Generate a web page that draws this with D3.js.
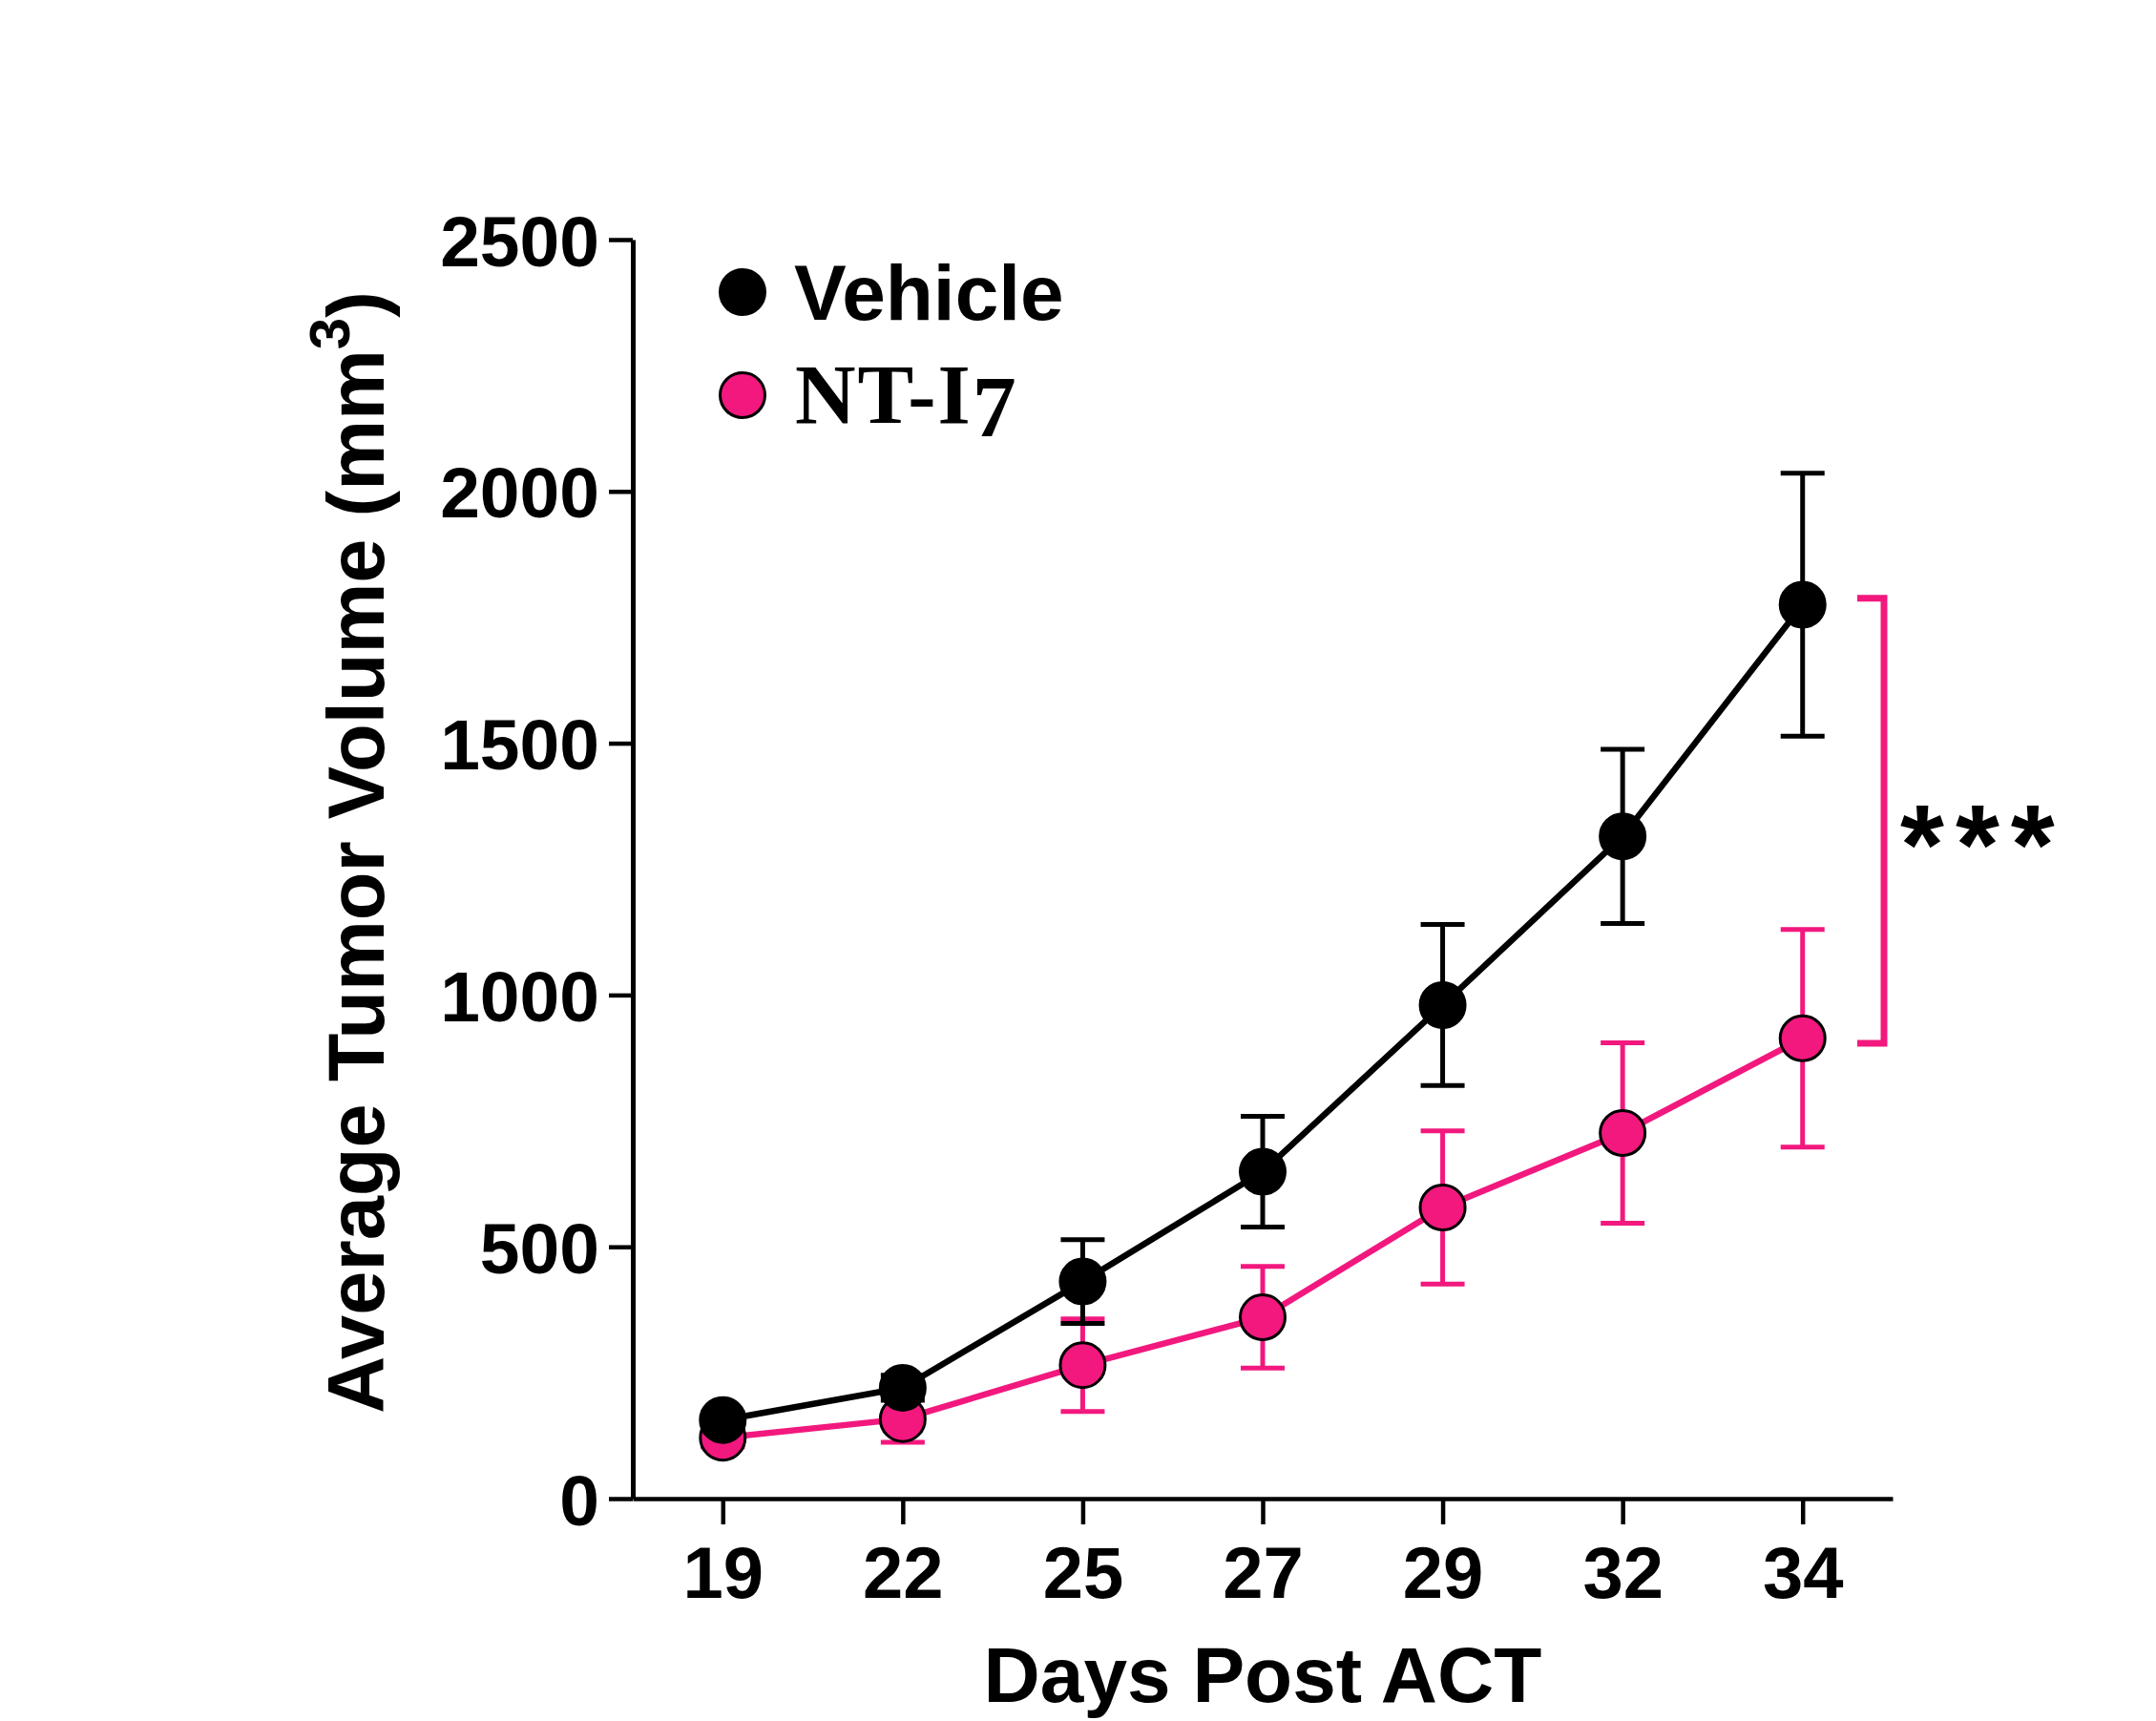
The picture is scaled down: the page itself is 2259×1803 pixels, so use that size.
<!DOCTYPE html>
<html>
<head>
<meta charset="utf-8">
<script src="https://cdn.jsdelivr.net/npm/d3@7"></script>
<style>
  html, body { margin: 0; padding: 0; background: #fff; }
  svg { display: block; }
</style>
</head>
<body>
<script>
// ---- data ----
const days = ["19", "22", "25", "27", "29", "32", "34"];
const vehicleMean = [156, 220, 431, 649, 980, 1315, 1775];
const vehicleSem  = [15, 25, 83, 110, 160, 173, 261];
const nt7Mean = [121, 158, 265, 360, 578, 726, 914];
const nt7Sem  = [18, 46, 92, 101, 152, 179, 216];
const yTicks = [0, 500, 1000, 1500, 2000, 2500];
const seriesNames = ["Vehicle", "NT-I7"];
const significance = { label: "***", top: 1788, bottom: 904 };

// ---- layout ----
const W = 2259, H = 1803;
const PINK = "#F2187E";
const sansFont = "'Liberation Sans', Arial, Helvetica, sans-serif";
const serifFont = "'Liberation Serif', 'Times New Roman', serif";

const svg = d3.select("body").append("svg")
  .attr("width", W).attr("height", H)
  .attr("viewBox", `0 0 ${W} ${H}`);

svg.append("rect").attr("width", W).attr("height", H).attr("fill", "#fff");

const x = d3.scalePoint().domain(days).range([663, 1983]).padding(0.5);
const y = d3.scaleLinear().domain([0, 2500]).range([1570, 251]);

// ---- axes ----
const yAxis = d3.axisLeft(y).tickValues(yTicks).tickFormat(d3.format("d"))
  .tickSize(25).tickSizeOuter(0).tickPadding(10);
const gy = svg.append("g").attr("transform", "translate(663,0)").call(yAxis);
gy.select(".domain").attr("stroke", "#000").attr("stroke-width", 5);
gy.selectAll(".tick line").attr("stroke", "#000").attr("stroke-width", 4.5);
gy.selectAll(".tick text")
  .attr("font-family", sansFont).attr("font-weight", "bold")
  .attr("font-size", 75).attr("fill", "#000").attr("dy", "0.36em");

const xAxis = d3.axisBottom(x).tickSize(27).tickSizeOuter(0);
const gx = svg.append("g").attr("transform", "translate(0,1570)").call(xAxis);
gx.select(".domain").attr("stroke", "#000").attr("stroke-width", 4.5);
gx.selectAll(".tick line").attr("stroke", "#000").attr("stroke-width", 4.5);
gx.selectAll(".tick text")
  .attr("font-family", sansFont).attr("font-weight", "bold")
  .attr("font-size", 76).attr("fill", "#000")
  .attr("y", 104).attr("dy", null);

// axis titles
svg.append("text")
  .attr("x", 1323).attr("y", 1783)
  .attr("text-anchor", "middle")
  .attr("font-family", sansFont).attr("font-weight", "bold")
  .attr("font-size", 82).attr("fill", "#000")
  .text("Days Post ACT");

const yt = svg.append("text")
  .attr("transform", "translate(402,893) rotate(-90)")
  .attr("text-anchor", "middle")
  .attr("font-family", sansFont).attr("font-weight", "bold")
  .attr("font-size", 83).attr("fill", "#000");
yt.append("tspan").text("Average Tumor Volume (mm");
yt.append("tspan").attr("font-size", 60).attr("dy", -36).text("3");
yt.append("tspan").attr("dy", 36).text(")");

// ---- series ----
function drawSeries(mean, sem, color, fill, markerStroke) {
  const g = svg.append("g");
  const pts = days.map((d, i) => ({ d, m: mean[i], s: sem[i] }));
  // error bars
  const eb = g.append("g").attr("stroke", color).attr("stroke-width", 5).attr("fill", "none");
  pts.forEach(p => {
    const cx = x(p.d);
    eb.append("line").attr("x1", cx).attr("x2", cx).attr("y1", y(p.m + p.s)).attr("y2", y(p.m - p.s));
    eb.append("line").attr("x1", cx - 23).attr("x2", cx + 23).attr("y1", y(p.m + p.s)).attr("y2", y(p.m + p.s));
    eb.append("line").attr("x1", cx - 23).attr("x2", cx + 23).attr("y1", y(p.m - p.s)).attr("y2", y(p.m - p.s));
  });
  // line
  g.append("path").datum(pts)
    .attr("fill", "none").attr("stroke", color).attr("stroke-width", 6.5)
    .attr("stroke-linejoin", "round")
    .attr("d", d3.line().x(p => x(p.d)).y(p => y(p.m)));
  // markers
  g.selectAll("circle").data(pts).join("circle")
    .attr("cx", p => x(p.d)).attr("cy", p => y(p.m)).attr("r", 23.5)
    .attr("fill", fill).attr("stroke", markerStroke).attr("stroke-width", 3);
}
drawSeries(nt7Mean, nt7Sem, PINK, PINK, "#000");
drawSeries(vehicleMean, vehicleSem, "#000", "#000", "#000");

// ---- significance bracket ----
const bx = 1974;
svg.append("path")
  .attr("d", `M1946,${y(significance.top)}H${bx}V${y(significance.bottom)}H1946`)
  .attr("fill", "none").attr("stroke", PINK).attr("stroke-width", 7);
svg.append("text")
  .attr("x", 1991).attr("y", 926)
  .attr("font-family", sansFont).attr("font-weight", "bold")
  .attr("font-size", 118).attr("letter-spacing", 12).attr("fill", "#000")
  .text(significance.label);

// ---- legend ----
const legend = svg.append("g");
legend.append("circle").attr("cx", 778).attr("cy", 306).attr("r", 23.5)
  .attr("fill", "#000").attr("stroke", "#000").attr("stroke-width", 3);
legend.append("text").attr("x", 832).attr("y", 335)
  .attr("font-family", sansFont).attr("font-weight", "bold")
  .attr("font-size", 82).attr("fill", "#000").text(seriesNames[0]);
legend.append("circle").attr("cx", 778).attr("cy", 414).attr("r", 23.5)
  .attr("fill", PINK).attr("stroke", "#000").attr("stroke-width", 3);
const lt = legend.append("text").attr("x", 833).attr("y", 443)
  .attr("font-family", serifFont).attr("font-weight", "bold")
  .attr("font-size", 88).attr("letter-spacing", 2).attr("fill", "#000");
lt.append("tspan").text("NT-I");
lt.append("tspan").attr("dy", 14).attr("font-size", 92).text("7");
</script>
</body>
</html>
